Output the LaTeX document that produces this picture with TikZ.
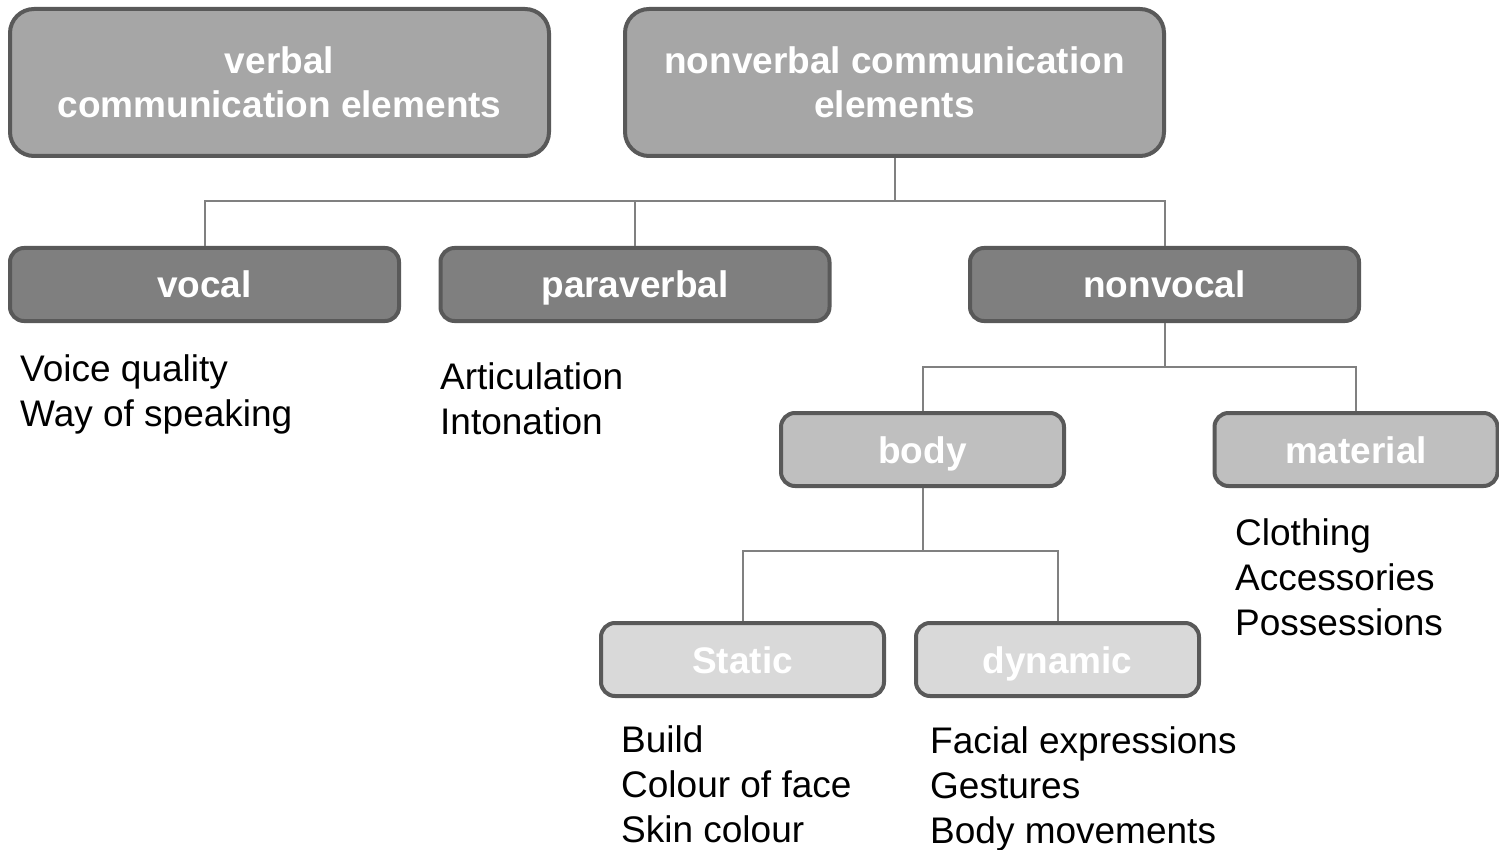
\documentclass[tikz,border=0pt]{standalone}
\usepackage{fontspec}
\setmainfont{Liberation Sans}
\definecolor{boxline}{HTML}{595959}
\definecolor{linkgray}{HTML}{808080}
\definecolor{fillA}{HTML}{A6A6A6}
\definecolor{fillB}{HTML}{7F7F7F}
\definecolor{fillC}{HTML}{BFBFBF}
\definecolor{fillD}{HTML}{D9D9D9}
\begin{document}
\begin{tikzpicture}[x=1pt,y=-1pt,
  box/.style={draw=boxline, line width=4pt, rounded corners=14pt, text=white,
    font=\fontsize{37}{44}\selectfont\bfseries, align=center, inner sep=0pt},
  headbox/.style={box, fill=fillA, minimum width=539pt, minimum height=147pt, rounded corners=24pt},
  onebox/.style={box, text height=27pt, text depth=0pt, minimum height=73pt},
  groupbox/.style={onebox, fill=fillB, minimum width=389pt},
  kindbox/.style={onebox, fill=fillC, minimum width=283pt},
  subbox/.style={onebox, fill=fillD, minimum width=283pt},
  items/.style={anchor=base west, align=left, inner sep=0pt,
    font=\fontsize{37}{45}\selectfont},
  link/.style={draw=linkgray, line width=2pt}]
\useasboundingbox (0,0) rectangle (1499,850);

% top level
\node[headbox] (verbal) at (279.5,82.5) {verbal\\communication elements};
\node[headbox] (nonverbal) at (894.5,82.5) {nonverbal communication\\elements};

% second level
\node[groupbox] (vocal) at (204.5,284.5) {vocal};
\node[groupbox] (para) at (635,284.5) {paraverbal};
\node[groupbox] (nonvocal) at (1164.5,284.5) {nonvocal};

% third level
\node[kindbox] (body) at (922.5,449.5) {body};
\node[kindbox] (material) at (1356,449.5) {material};

% fourth level
\node[subbox] (static) at (742.5,659.5) {Static};
\node[subbox] (dynamic) at (1057.5,659.5) {dynamic};

% connectors
\coordinate (j1) at (894.5,201);
\draw[link] (nonverbal.south) -- (j1);
\draw[link] (vocal.north) |- (j1);
\draw[link] (para.north) |- (j1);
\draw[link] (nonvocal.north) |- (j1);

\coordinate (j2) at (1164.5,367);
\draw[link] (nonvocal.south) -- (j2);
\draw[link] (body.north) |- (j2);
\draw[link] (material.north) |- (j2);

\coordinate (j3) at (922.5,551);
\draw[link] (body.south) -- (j3);
\draw[link] (static.north) |- (j3);
\draw[link] (dynamic.north) |- (j3);

% item lists (anchored at the baseline of the last line)
\node[items] (vocalitems) at (20,426) {Voice quality\\Way of speaking};
\node[items] (paraitems) at (440,434) {Articulation\\Intonation};
\node[items] (materialitems) at (1235,635) {Clothing\\Accessories\\Possessions};
\node[items] (staticitems) at (621,842) {Build\\Colour of face\\Skin colour};
\node[items] (dynamicitems) at (930,843) {Facial expressions\\Gestures\\Body movements};
\end{tikzpicture}
\end{document}
